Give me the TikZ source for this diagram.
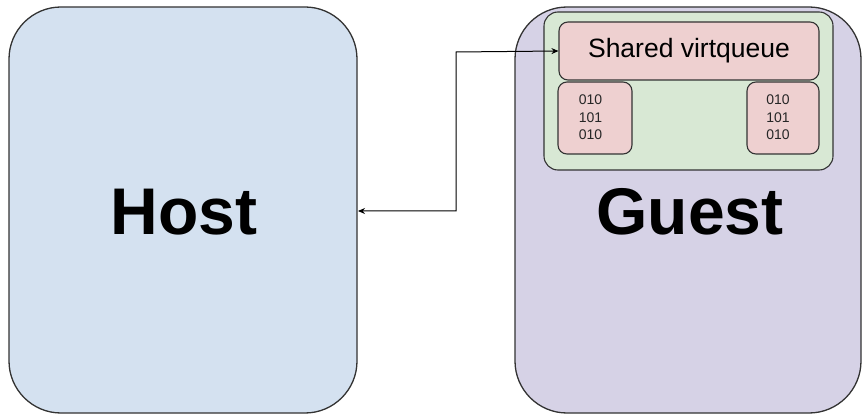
\documentclass[tikz,border=0pt]{standalone}
\usepackage{fontspec}
\setmainfont{Liberation Sans}
\usetikzlibrary{arrows.meta}
\definecolor{hostfill}{HTML}{D4E1F0}
\definecolor{guestfill}{HTML}{D6D2E6}
\definecolor{sharedfill}{HTML}{D8E8D4}
\definecolor{queuefill}{HTML}{EED0D0}
\definecolor{edge}{HTML}{333333}
\begin{document}
\begin{tikzpicture}[x=1pt,y=-1pt,
  bigbox/.style={draw=edge,line width=1.3pt,rounded corners=52pt},
  greenbox/.style={draw=edge,line width=1.1pt,fill=sharedfill,rounded corners=14pt},
  pinkbox/.style={draw=edge,line width=1.1pt,fill=queuefill,rounded corners=9pt},
  bits/.style={font=\fontsize{14}{17.5}\selectfont,align=center,text=black!85},
  title/.style={font=\fontsize{66}{72}\selectfont\bfseries},
  link/.style={draw=black,line width=1pt,{Stealth[length=7pt,width=6pt]}-{Stealth[length=7pt,width=6pt]}}]
\useasboundingbox (0,0) rectangle (863,417);
% host and guest panels
\draw[bigbox,fill=hostfill] (9,7) rectangle (357,413);
\node[title] (host) at (184,212) {Host};
\draw[bigbox,fill=guestfill] (515,7) rectangle (861,413);
\node[title] (guest) at (690,212) {Guest};
% shared region inside the guest
\draw[greenbox] (544,12) rectangle (833,170);
\node[pinkbox,minimum width=260pt,minimum height=58pt,font=\fontsize{26.5}{30}\selectfont] (vq) at (689,51) {Shared virtqueue};
% descriptor buffers
\node[pinkbox,minimum width=74pt,minimum height=72pt] (bufl) at (595,118) {};
\node[bits] (bitsl) at (590.5,117.5) {010\\101\\010};
\node[pinkbox,minimum width=72pt,minimum height=72pt] (bufr) at (783,118) {};
\node[bits] (bitsr) at (778,117.5) {010\\101\\010};
% host <-> shared virtqueue
\coordinate (hin) at (358,211);
\draw[link] (hin) -| (456,52) -- (vq.west);
\end{tikzpicture}
\end{document}
